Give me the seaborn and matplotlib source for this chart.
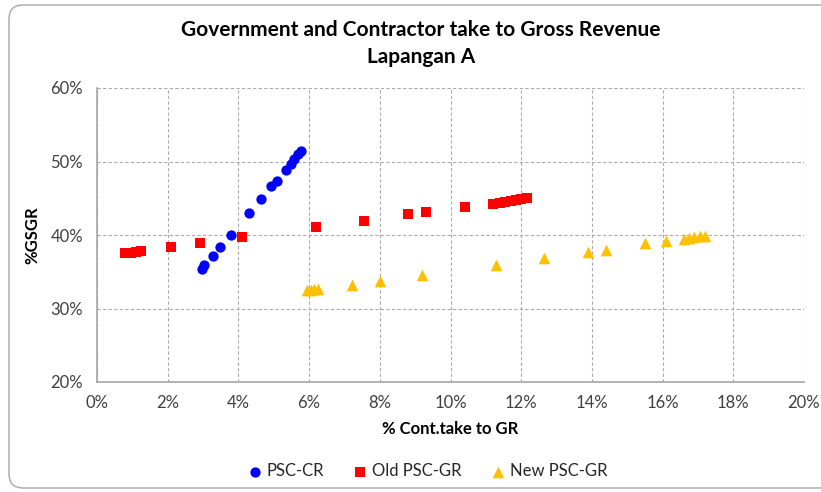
import matplotlib
matplotlib.use("Agg")
import numpy as np
import pandas as pd
import matplotlib.pyplot as plt
from matplotlib.patches import FancyBboxPatch
from matplotlib.ticker import PercentFormatter
import seaborn as sns

# Contractor take to gross revenue (%) vs government share (%GSGR)
psc_cr_x = [2.97, 3.03, 3.28, 3.48, 3.78, 4.31, 4.63, 4.93, 5.09, 5.35, 5.49, 5.58, 5.68, 5.78]
psc_cr_y = [35.4, 35.9, 37.2, 38.3, 40.0, 43.0, 44.9, 46.7, 47.3, 48.8, 49.7, 50.4, 51.0, 51.4]

old_gr_x = [0.8, 0.95, 1.1, 1.25, 2.1, 2.9, 4.1, 6.2, 7.55, 8.8, 9.3, 10.4,
            11.2, 11.4, 11.55, 11.7, 11.85, 12.0, 12.15]
old_gr_y = [37.5, 37.6, 37.7, 37.8, 38.4, 38.9, 39.7, 41.05, 41.95, 42.8, 43.1, 43.8,
            44.25, 44.4, 44.5, 44.65, 44.75, 44.85, 45.0]

new_gr_x = [5.95, 6.05, 6.15, 6.25, 7.2, 8.0, 9.2, 11.3, 12.65, 13.9, 14.4, 15.5, 16.1,
            16.6, 16.75, 16.9, 17.05, 17.2]
new_gr_y = [32.5, 32.55, 32.6, 32.7, 33.25, 33.8, 34.6, 35.95, 36.9, 37.75, 38.0, 38.9, 39.2,
            39.5, 39.6, 39.7, 39.8, 39.9]

series_names = ["PSC-CR", "Old PSC-GR", "New PSC-GR"]
x_ticks = list(range(0, 21, 2))
y_ticks = list(range(20, 61, 10))

df = pd.concat([
    pd.DataFrame({"x": psc_cr_x, "y": psc_cr_y, "scheme": series_names[0]}),
    pd.DataFrame({"x": old_gr_x, "y": old_gr_y, "scheme": series_names[1]}),
    pd.DataFrame({"x": new_gr_x, "y": new_gr_y, "scheme": series_names[2]}),
], ignore_index=True)

sns.set_style("white")
plt.rcParams["font.family"] = ["Lato", "DejaVu Sans"]

W, H = 821, 492
fig = plt.figure(figsize=(W / 100, H / 100), dpi=100)

# chart-area frame with rounded corners
frame = FancyBboxPatch((9 / 100, 4 / 100), 840 / 100, 483 / 100,
                       boxstyle="round,pad=0,rounding_size=0.14",
                       transform=fig.dpi_scale_trans, facecolor="none",
                       edgecolor="#A6A6A6", linewidth=1.0, zorder=-1)
fig.patches.append(frame)

left, right, top, bottom = 97, 804, 88, 382
ax = fig.add_axes([left / W, 1 - bottom / H, (right - left) / W, (bottom - top) / H])
ax.set_facecolor("none")
ax.set_zorder(2)

palette = {"PSC-CR": "#0000FF", "Old PSC-GR": "#FF0000", "New PSC-GR": "#FFC000"}
markers = {"PSC-CR": "o", "Old PSC-GR": "s", "New PSC-GR": "^"}
sizes = {"PSC-CR": 55, "Old PSC-GR": 62, "New PSC-GR": 70}

for name in series_names:
    sub = df[df["scheme"] == name]
    sns.scatterplot(data=sub, x="x", y="y", color=palette[name], marker=markers[name],
                    s=sizes[name], linewidth=0, ax=ax, label=name, zorder=3)

ax.set_xlim(0, 20)
ax.set_ylim(20, 60)
ax.set_xticks(x_ticks)
ax.set_yticks(y_ticks)
ax.xaxis.set_major_formatter(PercentFormatter(decimals=0))
ax.yaxis.set_major_formatter(PercentFormatter(decimals=0))

ax.grid(True, color="#ABABAB", linestyle=(0, (3, 2)), linewidth=0.8)
ax.set_axisbelow(True)
for side in ["top", "right"]:
    ax.spines[side].set_visible(False)
for side in ["left", "bottom"]:
    ax.spines[side].set_color("#A6A6A6")
    ax.spines[side].set_linewidth(1.2)

ax.tick_params(axis="y", direction="out", length=5, color="#A6A6A6", pad=5,
               labelsize=12, labelcolor="#404040")
ax.tick_params(axis="x", direction="inout", length=7, color="#A6A6A6", pad=6,
               labelsize=12, labelcolor="#404040")

ax.set_xlabel("% Cont.take to GR", fontsize=12, fontweight="bold", color="black", labelpad=7)
ax.set_ylabel("%GSGR", fontsize=12, fontweight="bold", color="black", labelpad=7)

fig.text(421 / W, 1 - 30 / H, "Government and Contractor take to Gross Revenue",
         ha="center", va="center", fontsize=15, fontweight="bold", color="black")
fig.text(421 / W, 1 - 57 / H, "Lapangan A",
         ha="center", va="center", fontsize=15, fontweight="bold", color="black")

handles, labels = ax.get_legend_handles_labels()
ax.get_legend().remove()
fig.legend(handles, labels, loc="center", bbox_to_anchor=(426 / W, 1 - 471 / H), ncol=3,
           frameon=False, fontsize=12, handletextpad=0.1, columnspacing=1.6,
           markerscale=1.0, handlelength=1.2)

fig.savefig("out.png", dpi=100, facecolor="white")
